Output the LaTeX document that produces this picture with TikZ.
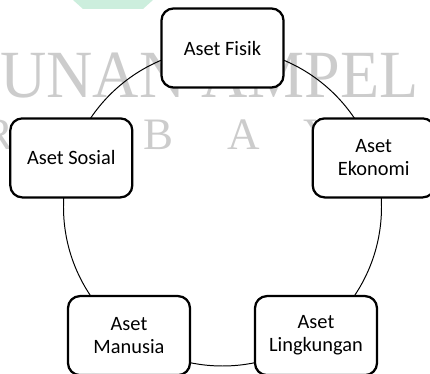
\documentclass[tikz,border=0pt]{standalone}
\usepackage{fontspec}
\setmainfont{Carlito}
\newfontfamily\wmfont{Liberation Serif}
\usepackage{tikz}

\tikzset{
    aset/.style={draw, line width=1.6pt, rounded corners=0.3cm, fill=white,
        minimum width=3.05cm, minimum height=1.975cm, align=center,
        font=\fontsize{14.5}{16.5}\selectfont},
    wm/.style={text=black!20, inner sep=0pt, font=\wmfont}
}

\begin{document}
\begin{tikzpicture}[x=0.025cm, y=-0.025cm]
    \useasboundingbox (0,0) rectangle (430,374);
    \fill[green!35!teal!20] (73,0) -- (153,0) -- (143,9) -- (83,9) -- cycle;
    \node[wm, anchor=base west, xscale=0.95, font=\wmfont\fontsize{48}{48}\selectfont] (wmtop) at (0,98) {UNAN AMPEL};
    \foreach \px/\ch in {-17/R, 63/A, 143/B, 227/A, 303/Y, 385/A}
        \node[wm, anchor=base west, font=\wmfont\fontsize{32}{32}\selectfont] at (\px,150) {\ch};
    \coordinate (O) at (222.5,207);
    \draw[line width=0.7pt] (O) circle (159);
    \node[aset] (fisik) at (222.5,48) {Aset Fisik};
    \node[aset] (sosial) at (71.3,157.9) {Aset Sosial};
    \node[aset] (ekonomi) at (373.7,157.9) {Aset\\Ekonomi};
    \node[aset] (manusia) at (129,335.6) {Aset\\Manusia};
    \node[aset] (lingkungan) at (316,335.6) {Aset\\Lingkungan};
\end{tikzpicture}
\end{document}
